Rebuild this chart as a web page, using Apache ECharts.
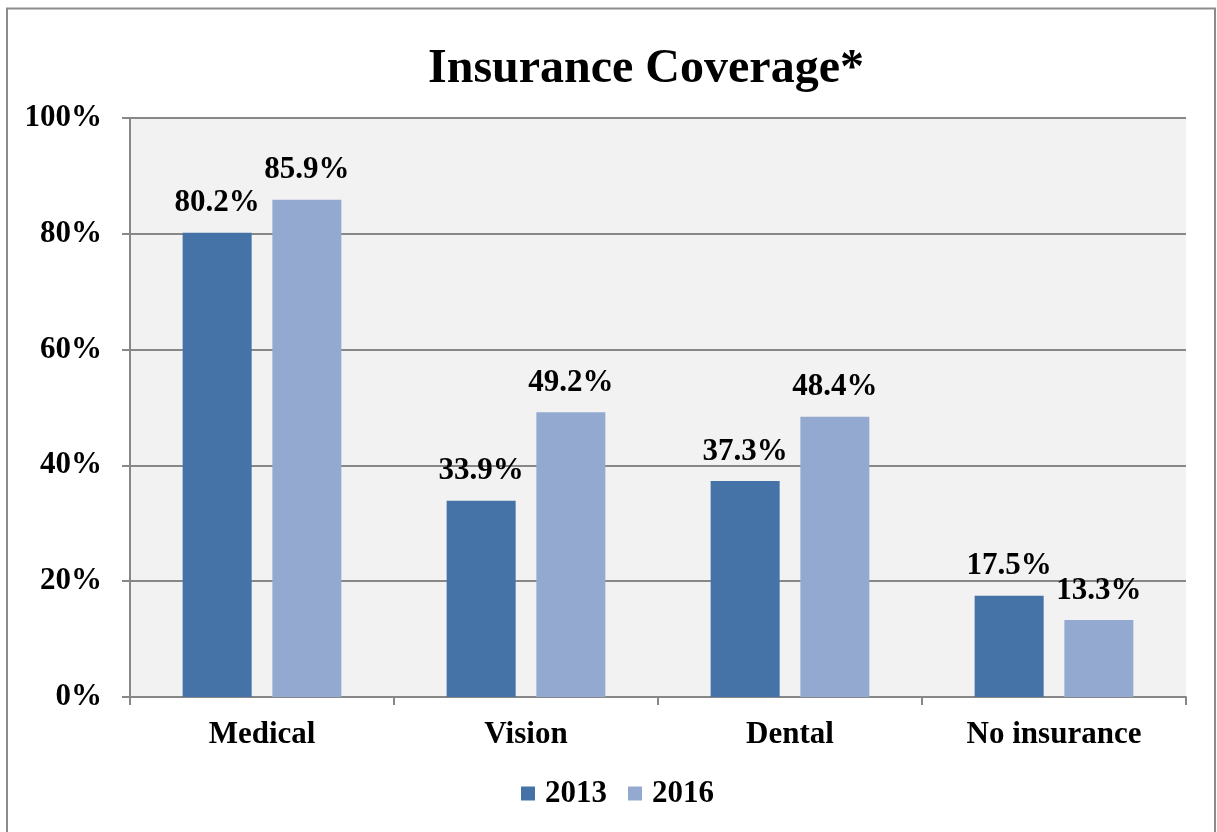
<!DOCTYPE html>
<html>
<head>
<meta charset="utf-8">
<title>Insurance Coverage*</title>
<script src="https://cdn.jsdelivr.net/npm/echarts@6/dist/echarts.min.js"></script>
<style>
  html, body { margin: 0; padding: 0; background: #ffffff; }
  #chart { width: 1217px; height: 832px; }
</style>
</head>
<body>
<div id="chart"></div>
<script>
// Coverage categories and the share of respondents (%) in each survey year
const categories = ['Medical', 'Vision', 'Dental', 'No insurance'];
const years = ['2013', '2016'];
const values2013 = [80.2, 33.9, 37.3, 17.5];
const values2016 = [85.9, 49.2, 48.4, 13.3];
const yTicks = { min: 0, max: 100, interval: 20 };

const FONT = '"Liberation Serif", "Times New Roman", serif';
const GRAY = '#878787';
const colors = ['#4572A7', '#94A9D0'];

const chart = echarts.init(document.getElementById('chart'), null, { renderer: 'canvas' });

const labelStyle = {
  show: true,
  position: 'top',
  distance: 14,
  fontFamily: FONT,
  fontWeight: 'bold',
  fontSize: 31,
  color: '#000',
  formatter: p => p.value.toFixed(1) + '%'
};

chart.setOption({
  animation: false,
  backgroundColor: '#ffffff',
  title: {
    text: 'Insurance Coverage*',
    left: 423,
    top: 41,
    textStyle: { fontFamily: FONT, fontWeight: 'bold', fontSize: 48, color: '#000' }
  },
  graphic: [{
    type: 'rect',
    shape: { x: 7, y: 8.5, width: 1208, height: 840 },
    style: { fill: 'none', stroke: '#8c8c8c', lineWidth: 2 },
    silent: true,
    z: -1
  }],
  legend: {
    data: years,
    left: 516,
    top: 773,
    itemWidth: 14,
    itemHeight: 14,
    itemGap: 21,
    icon: 'rect',
    textStyle: { fontFamily: FONT, fontWeight: 'bold', fontSize: 31, color: '#000', padding: [0, 0, 0, 5] }
  },
  grid: {
    left: 130, right: 31, top: 118, bottom: 135,
    show: true, backgroundColor: '#F2F2F2', borderWidth: 0
  },
  xAxis: {
    type: 'category',
    data: categories,
    axisLine: { show: true, lineStyle: { color: GRAY, width: 2 } },
    axisTick: { show: true, length: 8, lineStyle: { color: GRAY, width: 2 } },
    axisLabel: { margin: 22, fontFamily: FONT, fontWeight: 'bold', fontSize: 31, color: '#000' }
  },
  yAxis: {
    type: 'value',
    min: yTicks.min, max: yTicks.max, interval: yTicks.interval,
    axisLine: { show: true, lineStyle: { color: GRAY, width: 2 } },
    axisTick: { show: true, length: 8, lineStyle: { color: GRAY, width: 2 } },
    splitLine: { show: true, lineStyle: { color: GRAY, width: 2 } },
    axisLabel: { margin: 28, formatter: '{value}%', fontFamily: FONT, fontWeight: 'bold', fontSize: 31, color: '#000' }
  },
  series: [
    {
      name: years[0], type: 'bar', data: values2013,
      barWidth: 69, barGap: '30%',
      itemStyle: { color: colors[0] },
      label: labelStyle
    },
    {
      name: years[1], type: 'bar', data: values2016,
      barWidth: 69, barGap: '30%',
      itemStyle: { color: colors[1] },
      label: labelStyle
    }
  ]
});
</script>
</body>
</html>
